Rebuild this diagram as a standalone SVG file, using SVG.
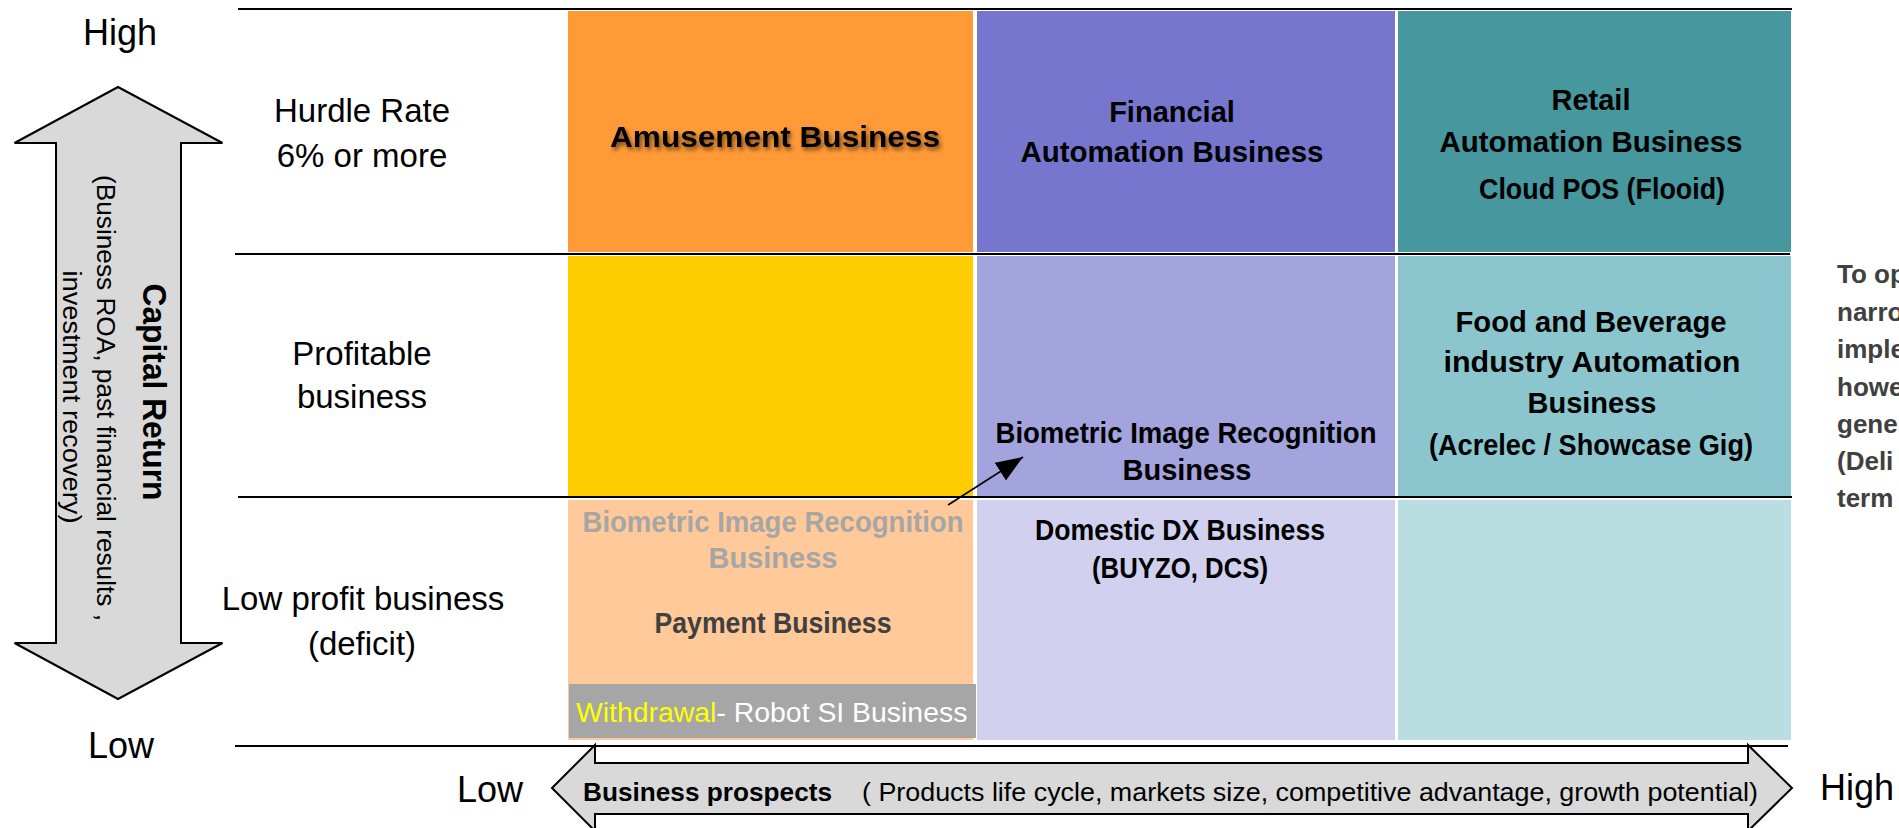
<svg xmlns="http://www.w3.org/2000/svg" width="1899" height="828" viewBox="0 0 1899 828">
<style>
text{font-family:"Liberation Sans",Arial,sans-serif;}
.ax{font-size:36px;fill:#000;}
.row{font-size:33px;fill:#000;text-anchor:middle;}
.lbl{font-size:29px;font-weight:bold;fill:#000;text-anchor:middle;}
.grid{stroke:#000;stroke-width:2;fill:none;}
.big{fill:#D9D9D9;stroke:#000;stroke-width:2;}
.note{font-size:26px;font-weight:bold;fill:#404040;}
</style>
<defs>
<filter id="sh" x="-10%" y="-30%" width="120%" height="160%">
<feDropShadow dx="2" dy="3" stdDeviation="2" flood-color="#000" flood-opacity="0.55"/>
</filter>
<marker id="ah" markerUnits="userSpaceOnUse" markerWidth="28" markerHeight="22" refX="27" refY="10.5" orient="auto">
<path d="M0,0 L27,10.5 L0,21 Z" fill="#000"/>
</marker>
</defs>
<rect width="1899" height="828" fill="#fff"/>

<!-- cells -->
<g id="cell-amusement">
<rect x="568" y="11" width="405" height="241" fill="#FF9A36"/>
<text class="lbl" x="775" y="147" font-size="31" textLength="330" lengthAdjust="spacingAndGlyphs" filter="url(#sh)">Amusement Business</text>
</g>
<g id="cell-financial">
<rect x="977" y="11" width="418" height="241" fill="#7676CF"/>
<text class="lbl" x="1172" y="122">Financial</text>
<text class="lbl" x="1172" y="162" textLength="303" lengthAdjust="spacingAndGlyphs">Automation Business</text>
</g>
<g id="cell-retail">
<rect x="1398" y="11" width="393" height="241" fill="#46979E"/>
<text class="lbl" x="1591" y="110">Retail</text>
<text class="lbl" x="1591" y="152" textLength="303" lengthAdjust="spacingAndGlyphs">Automation Business</text>
<text class="lbl" x="1602" y="199" textLength="246" lengthAdjust="spacingAndGlyphs">Cloud POS (Flooid)</text>
</g>
<g id="cell-yellow">
<rect x="568" y="256" width="405" height="240" fill="#FFCC00"/>
</g>
<g id="cell-biometric">
<rect x="977" y="256" width="418" height="240" fill="#A3A3DD"/>
<text class="lbl" x="1186" y="443" textLength="381" lengthAdjust="spacingAndGlyphs">Biometric Image Recognition</text>
<text class="lbl" x="1187" y="480">Business</text>
</g>
<g id="cell-food">
<rect x="1398" y="256" width="393" height="240" fill="#8BC6CE"/>
<text class="lbl" x="1591" y="332" textLength="271" lengthAdjust="spacingAndGlyphs">Food and Beverage</text>
<text class="lbl" x="1592" y="372" textLength="297" lengthAdjust="spacingAndGlyphs">industry Automation</text>
<text class="lbl" x="1592" y="413">Business</text>
<text class="lbl" x="1591" y="455" textLength="324" lengthAdjust="spacingAndGlyphs">(Acrelec / Showcase Gig)</text>
</g>
<g id="cell-payment">
<rect x="568" y="500" width="405" height="240" fill="#FFC999"/>
<text class="lbl" x="773" y="532" fill="#A6A6A6" style="fill:#A6A6A6" textLength="381" lengthAdjust="spacingAndGlyphs">Biometric Image Recognition</text>
<text class="lbl" x="773" y="568" style="fill:#A6A6A6">Business</text>
<text class="lbl" x="773" y="633" style="fill:#404040" textLength="237" lengthAdjust="spacingAndGlyphs">Payment Business</text>
</g>
<g id="cell-withdrawal">
<rect x="569" y="684" width="407" height="54" fill="#A6A6A6"/>
<text x="576" y="722" font-size="28.4"><tspan fill="#FFFF00">Withdrawal</tspan><tspan fill="#fff">- Robot SI Business</tspan></text>
</g>
<g id="cell-domestic">
<rect x="977" y="500" width="418" height="240" fill="#D1D1EF"/>
<text class="lbl" x="1180" y="540" textLength="290" lengthAdjust="spacingAndGlyphs">Domestic DX Business</text>
<text class="lbl" x="1180" y="578" textLength="176" lengthAdjust="spacingAndGlyphs">(BUYZO, DCS)</text>
</g>
<g id="cell-empty">
<rect x="1398" y="500" width="393" height="240" fill="#B9DDE1"/>
</g>

<!-- grid lines -->
<g id="grid">
<line class="grid" x1="238" y1="9" x2="1792" y2="9"/>
<line class="grid" x1="235" y1="254" x2="1790" y2="254"/>
<line class="grid" x1="238" y1="497" x2="1792" y2="497"/>
<line class="grid" x1="235" y1="746" x2="1788" y2="746"/>
</g>

<!-- row labels -->
<g id="row-labels">
<text class="row" x="362" y="122">Hurdle Rate</text>
<text class="row" x="362" y="167">6% or more</text>
<text class="row" x="362" y="365">Profitable</text>
<text class="row" x="362" y="408">business</text>
<text class="row" x="363" y="610">Low profit business</text>
<text class="row" x="362" y="655">(deficit)</text>
</g>

<!-- vertical axis -->
<g id="axis-capital">
<path class="big" d="M118,87 L222.5,143 L181,143 L181,643 L222.5,643 L118,699 L14.5,643 L56,643 L56,143 L14.5,143 Z"/>
<text transform="translate(143,392) rotate(90)" text-anchor="middle" font-size="33.5" font-weight="bold" textLength="217" lengthAdjust="spacingAndGlyphs">Capital Return</text>
<text transform="translate(97,398) rotate(90)" text-anchor="middle" font-size="26" textLength="446" lengthAdjust="spacingAndGlyphs">(Business ROA, past financial results ,</text>
<text transform="translate(63,397) rotate(90)" text-anchor="middle" font-size="26" textLength="253" lengthAdjust="spacingAndGlyphs">investment recovery)</text>
<text class="ax" x="120" y="45" text-anchor="middle">High</text>
<text class="ax" x="121" y="758" text-anchor="middle">Low</text>
</g>

<!-- horizontal axis -->
<g id="axis-prospects">
<path class="big" d="M552,788 L595,745 L595,763 L1748,763 L1748,745 L1792,788 L1748,831 L1748,814 L595,814 L595,831 Z"/>
<text x="583" y="801" font-size="26" font-weight="bold" textLength="249" lengthAdjust="spacingAndGlyphs">Business prospects</text>
<text x="862" y="801" font-size="26" textLength="896" lengthAdjust="spacingAndGlyphs">( Products life cycle, markets size, competitive advantage, growth potential)</text>
<text class="ax" x="490" y="802" text-anchor="middle">Low</text>
<text class="ax" x="1820" y="800">High</text>
</g>

<!-- side note -->
<g id="side-note">
<text class="note" x="1837" y="283">To op</text>
<text class="note" x="1837" y="321">narro</text>
<text class="note" x="1837" y="358">imple</text>
<text class="note" x="1837" y="396">howe</text>
<text class="note" x="1837" y="433">gene</text>
<text class="note" x="1837" y="470">(Deli</text>
<text class="note" x="1837" y="507">term</text>
</g>

<!-- connectors -->
<g id="connectors">
<line x1="948" y1="505" x2="1023" y2="457" stroke="#000" stroke-width="1.6" marker-end="url(#ah)"/>
</g>
</svg>
